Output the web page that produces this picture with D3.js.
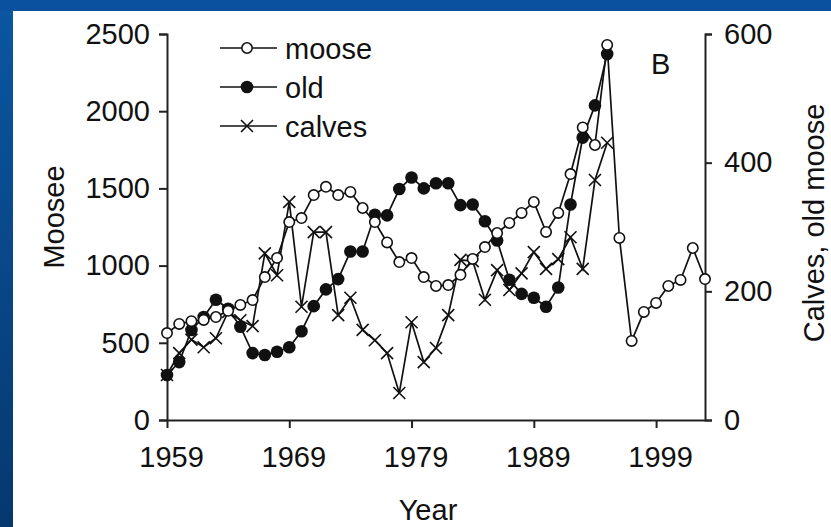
<!DOCTYPE html>
<html>
<head>
<meta charset="utf-8">
<script src="https://cdn.jsdelivr.net/npm/d3@7"></script>
<style>
  html, body { margin: 0; padding: 0; background: #0b4d96; }
  svg { display: block; }
  text { font-family: "Liberation Sans", Arial, Helvetica, sans-serif; fill: #111; }
</style>
</head>
<body>
<div class="mainCont"></div>
<script>
// Isle Royale style moose counts
var years = [1959, 1960, 1961, 1962, 1963, 1964, 1965, 1966, 1967, 1968,
             1969, 1970, 1971, 1972, 1973, 1974, 1975, 1976, 1977, 1978,
             1979, 1980, 1981, 1982, 1983, 1984, 1985, 1986, 1987, 1988,
             1989, 1990, 1991, 1992, 1993, 1994, 1995, 1996, 1997, 1998,
             1999, 2000, 2001, 2002, 2003];
var moose = [563, 622, 640, 648, 667, 707, 745, 777, 926, 1050,
             1282, 1308, 1457, 1510, 1457, 1477, 1373, 1282, 1150, 1023,
             1049, 926, 868, 874, 940, 1043, 1120, 1211, 1276, 1341,
             1412, 1218, 1341, 1593, 1895, 1781, 2429, 1179, 512, 700,
             758, 868, 907, 1114, 913];
var old = [70, 90, 140, 160, 187, 173, 145, 104, 101, 106,
           113, 138, 177, 203, 219, 262, 262, 319, 318, 359,
           377, 360, 368, 368, 334, 335, 309, 279, 218, 196,
           190, 176, 206, 335, 439, 489, 569];
var calves = [70, 104, 125, 113, 127, 168, 155, 146, 259, 225,
              339, 176, 292, 292, 163, 190, 140, 124, 104, 42,
              152, 90, 112, 163, 249, 247, 187, 233, 202, 228,
              261, 235, 250, 284, 235, 373, 431];
var yearTicks = [1959, 1969, 1979, 1989, 1999];
var leftTicks = [0, 500, 1000, 1500, 2000, 2500];
var rightTicks = [0, 200, 400, 600];
var legendNames = ["moose", "old", "calves"];

var W = 831, H = 527;
var margin = {top: 34, right: 126, bottom: 107, left: 167};
var fs = 29;

var svg = d3.select(".mainCont").append("svg")
    .attr("width", W)
    .attr("height", H);

// slide background + white panel
var grad = svg.append("defs").append("linearGradient")
    .attr("id", "side")
    .attr("x1", 0).attr("y1", 0).attr("x2", 0).attr("y2", 1);
grad.append("stop").attr("offset", "0%").attr("stop-color", "#0b56a2");
grad.append("stop").attr("offset", "100%").attr("stop-color", "#06386f");
svg.append("rect").attr("width", W).attr("height", H).attr("fill", "url(#side)");
svg.append("rect").attr("x", 0).attr("y", 0).attr("width", W).attr("height", 11).attr("fill", "#0a52a0");
svg.append("rect").attr("x", 13).attr("y", 11).attr("width", W - 13).attr("height", H - 11).attr("fill", "#fff");

var x = d3.scaleLinear().domain([1959, 2003]).range([margin.left, W - margin.right]);
var yL = d3.scaleLinear().domain([0, 2500]).range([H - margin.bottom, margin.top]);
var yR = d3.scaleLinear().domain([0, 600]).range([H - margin.bottom, margin.top]);
var y0 = yL(0);

// axes
var gx = svg.append("g")
    .attr("transform", "translate(0," + y0 + ")")
    .call(d3.axisBottom(x).tickValues(yearTicks).tickFormat(d3.format("d"))
        .tickSize(8).tickSizeOuter(0).tickPadding(18));
gx.selectAll("text").attr("dx", 4);

var gl = svg.append("g")
    .attr("transform", "translate(" + margin.left + ",0)")
    .call(d3.axisLeft(yL).tickValues(leftTicks).tickFormat(d3.format("d"))
        .tickSize(8).tickPadding(9));

var gr = svg.append("g")
    .attr("transform", "translate(" + (W - margin.right) + ",0)")
    .call(d3.axisRight(yR).tickValues(rightTicks).tickFormat(d3.format("d"))
        .tickSize(7).tickPadding(12));

svg.selectAll(".domain, .tick line").attr("stroke", "#222").attr("stroke-width", 2);
svg.selectAll(".tick text").style("font-size", fs + "px").attr("fill", "#111");

// axis titles
svg.append("text")
    .attr("transform", "translate(64,217) rotate(-90)")
    .attr("text-anchor", "middle")
    .style("font-size", fs + "px")
    .text("Moosee");
svg.append("text")
    .attr("transform", "translate(824,223) rotate(-90)")
    .attr("text-anchor", "middle")
    .style("font-size", fs + "px")
    .text("Calves, old moose");
svg.append("text")
    .attr("x", 428).attr("y", 520)
    .attr("text-anchor", "middle")
    .style("font-size", fs + "px")
    .text("Year");
svg.append("text")
    .attr("x", 651).attr("y", 74)
    .style("font-size", fs + "px")
    .text("B");

// series
var mooseData = years.map(function(yr, i) { return [yr, moose[i]]; });
var oldData = old.map(function(v, i) { return [years[i], v]; });
var calvesData = calves.map(function(v, i) { return [years[i], v]; });

var lineL = d3.line().x(function(d) { return x(d[0]); }).y(function(d) { return yL(d[1]); });
var lineR = d3.line().x(function(d) { return x(d[0]); }).y(function(d) { return yR(d[1]); });

var plot = svg.append("g");

plot.append("path").datum(calvesData).attr("d", lineR)
    .attr("fill", "none").attr("stroke", "#111").attr("stroke-width", 1.7);
plot.append("path").datum(oldData).attr("d", lineR)
    .attr("fill", "none").attr("stroke", "#111").attr("stroke-width", 1.7);
plot.append("path").datum(mooseData).attr("d", lineL)
    .attr("fill", "none").attr("stroke", "#111").attr("stroke-width", 1.7);

function cross(g, s) {
    g.append("path")
        .attr("d", "M" + (-s) + "," + (-s) + "L" + s + "," + s + "M" + (-s) + "," + s + "L" + s + "," + (-s))
        .attr("stroke", "#111").attr("stroke-width", 1.6).attr("fill", "none");
}

plot.selectAll(".calf")
    .data(calvesData)
    .enter().append("g")
    .attr("class", "calf")
    .attr("transform", function(d) { return "translate(" + x(d[0]) + "," + yR(d[1]) + ")"; })
    .each(function() { cross(d3.select(this), 6); });

plot.selectAll(".oldpt")
    .data(oldData)
    .enter().append("circle")
    .attr("class", "oldpt")
    .attr("cx", function(d) { return x(d[0]); })
    .attr("cy", function(d) { return yR(d[1]); })
    .attr("r", 6.3)
    .attr("fill", "#111");

plot.selectAll(".moosept")
    .data(mooseData)
    .enter().append("circle")
    .attr("class", "moosept")
    .attr("cx", function(d) { return x(d[0]); })
    .attr("cy", function(d) { return yL(d[1]); })
    .attr("r", 5.2)
    .attr("fill", "#fff")
    .attr("stroke", "#111")
    .attr("stroke-width", 1.6);

// legend
var legend = svg.append("g");
legendNames.forEach(function(name, i) {
    var ly = 48 + i * 39;
    var row = legend.append("g").attr("transform", "translate(0," + ly + ")");
    row.append("line").attr("x1", 220).attr("x2", 277).attr("y1", 0).attr("y2", 0)
        .attr("stroke", "#111").attr("stroke-width", 1.7);
    if (i === 0) {
        row.append("circle").attr("cx", 247).attr("cy", 0).attr("r", 5.2)
            .attr("fill", "#fff").attr("stroke", "#111").attr("stroke-width", 1.6);
    } else if (i === 1) {
        row.append("circle").attr("cx", 247).attr("cy", 0).attr("r", 6.3).attr("fill", "#111");
    } else {
        cross(row.append("g").attr("transform", "translate(247,0)"), 6);
    }
    row.append("text").attr("x", 285).attr("y", 11)
        .style("font-size", fs + "px")
        .text(name);
});
</script>
</body>
</html>
